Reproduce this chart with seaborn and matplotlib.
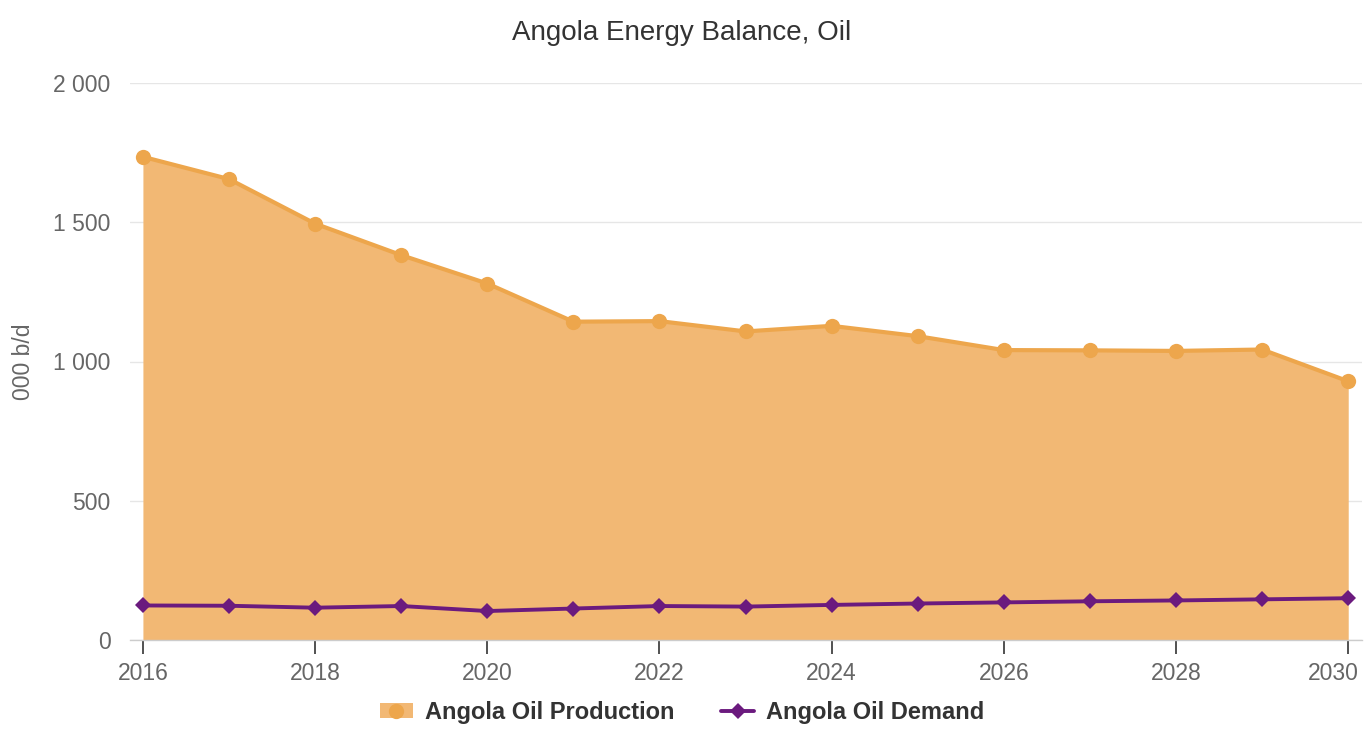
import matplotlib
matplotlib.use("Agg")
import matplotlib.pyplot as plt
from matplotlib.patches import Patch
from matplotlib.lines import Line2D
from matplotlib.ticker import FuncFormatter
from matplotlib.legend_handler import HandlerTuple
from matplotlib.transforms import ScaledTranslation
import seaborn as sns
import pandas as pd

years = list(range(2016, 2031))
production = [1735, 1655, 1495, 1382, 1280, 1143, 1145, 1108, 1128, 1091, 1041, 1040, 1038, 1043, 929]
demand = [124, 123, 116, 122, 104, 113, 122, 120, 126, 131, 135, 139, 142, 146, 150]
year_ticks = [2016, 2018, 2020, 2022, 2024, 2026, 2028, 2030]
y_ticks = [0, 500, 1000, 1500, 2000]

title = "Angola Energy Balance, Oil"
y_title = "000 b/d"
prod_name = "Angola Oil Production"
dem_name = "Angola Oil Demand"

prod_line = "#eda64c"
prod_fill = "#f2b874"
dem_color = "#6b1a7e"
grid_color = "#e6e6e6"
text_gray = "#666666"

df = pd.DataFrame({"year": years, "production": production, "demand": demand})

sns.set_theme(style="white")
plt.rcParams["font.family"] = ["Liberation Sans", "DejaVu Sans"]

fig = plt.figure(figsize=(13.64, 7.52), dpi=100)
ax = fig.add_axes([130 / 1364, (752 - 640) / 752, (1362 - 130) / 1364, (640 - 83) / 752])

ax.fill_between(df["year"], df["production"], 0, color=prod_fill, lw=0, zorder=2)
sns.lineplot(data=df, x="year", y="production", ax=ax, color=prod_line, lw=3,
             marker="o", markersize=11, markeredgewidth=0, zorder=3)
sns.lineplot(data=df, x="year", y="demand", ax=ax, color=dem_color, lw=2.8,
             marker="D", markersize=8, markeredgewidth=0, zorder=4)

ax.set_xlim(2015.85, 2030.16)
ax.set_ylim(0, 2000)
ax.set_xticks(year_ticks)
ax.set_yticks(y_ticks)
ax.yaxis.set_major_formatter(FuncFormatter(lambda v, p: f"{int(v):,}".replace(",", " ")))
ax.grid(axis="y", color=grid_color, lw=1, zorder=0)
ax.grid(axis="x", visible=False)
for side in ["top", "right", "left"]:
    ax.spines[side].set_visible(False)
ax.spines["bottom"].set_color("#cccccc")
ax.spines["bottom"].set_linewidth(1)
ax.tick_params(axis="x", length=10, width=1.2, color="#333333", colors=text_gray,
               labelsize=16.5, pad=6, bottom=True)
ax.tick_params(axis="y", length=0, colors=text_gray, labelsize=16.5, pad=14)
ax.set_xlabel("")
ax.set_ylabel(y_title, color=text_gray, fontsize=16.5, labelpad=13)

# keep the last year label inside the figure
last = ax.get_xticklabels()[-1]
last.set_transform(last.get_transform() + ScaledTranslation(-0.15, 0, fig.dpi_scale_trans))

fig.text(0.5, 1 - 33 / 752, title, ha="center", va="center", fontsize=20, color="#333333")

handles = [
    (Patch(facecolor=prod_fill, edgecolor="none"),
     Line2D([], [], color=prod_line, lw=0, marker="o", markersize=11, markeredgewidth=0)),
    Line2D([], [], color=dem_color, lw=2.8, marker="D", markersize=8, markeredgewidth=0),
]
leg = fig.legend(handles, [prod_name, dem_name], loc="center", bbox_to_anchor=(0.5, 1 - 712 / 752),
                 ncol=2, frameon=False, prop={"size": 17, "weight": "bold"},
                 handlelength=1.4, handleheight=0.6, columnspacing=2.0, handletextpad=0.5,
                 handler_map={tuple: HandlerTuple(ndivide=1, pad=0)})
for t in leg.get_texts():
    t.set_color("#333333")

fig.savefig("out.png", dpi=100)
